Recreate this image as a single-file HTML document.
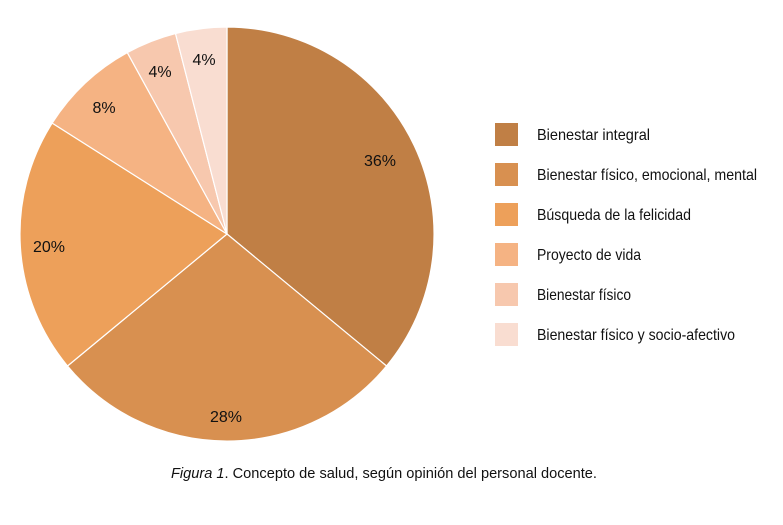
<!DOCTYPE html>
<html><head><meta charset="utf-8"><style>
html,body{margin:0;padding:0;background:#fff;}
svg text{font-family:"Liberation Sans",sans-serif;}
</style></head><body>
<svg width="783" height="520" viewBox="0 0 783 520" xmlns="http://www.w3.org/2000/svg">
<g stroke="#fff" stroke-width="1.2">
<path d="M227,234 L227,27 A207,207 0 0 1 386.5,366 Z" fill="#c07f45"/>
<path d="M227,234 L386.5,366 A207,207 0 0 1 67.5,366 Z" fill="#d89050"/>
<path d="M227,234 L67.5,366 A207,207 0 0 1 52.2,123.1 Z" fill="#eda05a"/>
<path d="M227,234 L52.2,123.1 A207,207 0 0 1 127.3,52.6 Z" fill="#f5b383"/>
<path d="M227,234 L127.3,52.6 A207,207 0 0 1 175.5,33.5 Z" fill="#f7c8ae"/>
<path d="M227,234 L175.5,33.5 A207,207 0 0 1 227,27 Z" fill="#f9ddd1"/>
</g>
<g font-size="16" fill="#111" text-anchor="middle">
<text x="380" y="166">36%</text>
<text x="226" y="422">28%</text>
<text x="49" y="252">20%</text>
<text x="104" y="113">8%</text>
<text x="160" y="77">4%</text>
<text x="204" y="65">4%</text>
</g>
<g>
<rect x="495" y="123" width="23" height="23" fill="#c07f45"/>
<rect x="495" y="163" width="23" height="23" fill="#d89050"/>
<rect x="495" y="203" width="23" height="23" fill="#eda05a"/>
<rect x="495" y="243" width="23" height="23" fill="#f5b383"/>
<rect x="495" y="283" width="23" height="23" fill="#f7c8ae"/>
<rect x="495" y="323" width="23" height="23" fill="#f9ddd1"/>
</g>
<g font-size="16" fill="#111">
<text x="537" y="140" textLength="113" lengthAdjust="spacingAndGlyphs">Bienestar integral</text>
<text x="537" y="180" textLength="220" lengthAdjust="spacingAndGlyphs">Bienestar físico, emocional, mental</text>
<text x="537" y="220" textLength="154" lengthAdjust="spacingAndGlyphs">Búsqueda de la felicidad</text>
<text x="537" y="260" textLength="104" lengthAdjust="spacingAndGlyphs">Proyecto de vida</text>
<text x="537" y="300" textLength="94" lengthAdjust="spacingAndGlyphs">Bienestar físico</text>
<text x="537" y="340" textLength="198" lengthAdjust="spacingAndGlyphs">Bienestar físico y socio-afectivo</text>
</g>
<text x="171" y="478" font-size="15" fill="#111" textLength="426" lengthAdjust="spacingAndGlyphs"><tspan font-style="italic">Figura 1</tspan>. Concepto de salud, según opinión del personal docente.</text>
</svg>
</body></html>
